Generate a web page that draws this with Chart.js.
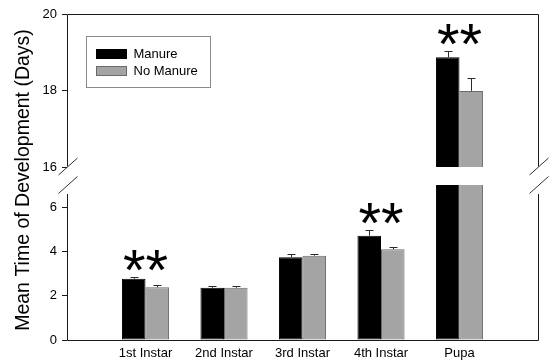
<!DOCTYPE html>
<html>
<head>
<meta charset="utf-8">
<script src="https://cdn.jsdelivr.net/npm/chart.js@4.4.1/dist/chart.umd.min.js"></script>
<style>
  html, body { margin: 0; padding: 0; background: #fff; }
  #wrap { width: 552px; height: 362px; }
</style>
</head>
<body>
<div id="wrap"><canvas id="chart" width="552" height="362"></canvas></div>
<script>
// Development stages and mean development time (days) with standard errors
const categories = ['1st Instar', '2nd Instar', '3rd Instar', '4th Instar', 'Pupa'];
const manure = [2.77, 2.36, 3.74, 4.71, 18.87];
const manureSE = [0.06, 0.09, 0.15, 0.24, 0.17];
const noManure = [2.38, 2.36, 3.81, 4.10, 17.99];
const noManureSE = [0.09, 0.06, 0.09, 0.11, 0.33];
const significance = ['**', '', '', '**', '**'];
const seriesNames = ['Manure', 'No Manure'];
const lowerTicks = [0, 2, 4, 6];
const upperTicks = [16, 18, 20];
const lowerRange = [0, 7];
const upperRange = [16, 20];

const FONT = '"Liberation Sans", Arial, Helvetica, sans-serif';
Chart.defaults.font.family = FONT;
Chart.defaults.font.size = 13;
Chart.defaults.color = '#000';

// one empty slot on each side of the categories
const pad = arr => [null, ...arr, null];
const labels = ['', ...categories, ''];

const styles = {
  Manure: { fill: '#000000', border: '#000000' },
  'No Manure': { fill: '#a4a4a4', border: '#6a6a6a' }
};

function barSet(name, values, errors, axis) {
  return {
    label: name,
    data: pad(values),
    se: pad(errors),
    yAxisID: axis,
    stack: name,
    backgroundColor: styles[name].fill,
    borderColor: styles[name].border,
    borderWidth: 1,
    borderSkipped: false
  };
}

// each series is drawn on both segments of the broken axis
const datasets = [
  barSet(seriesNames[0], manure, manureSE, 'y'),
  barSet(seriesNames[1], noManure, noManureSE, 'y'),
  barSet(seriesNames[0], manure, manureSE, 'yTop'),
  barSet(seriesNames[1], noManure, noManureSE, 'yTop')
];

// clip each dataset to its own axis segment and add error bars
const segmentClip = {
  id: 'segmentClip',
  beforeDatasetDraw(chart, args) {
    const meta = args.meta;
    const ys = chart.scales[meta.yAxisID];
    const ctx = chart.ctx;
    ctx.save();
    ctx.beginPath();
    ctx.rect(chart.chartArea.left, ys.top, chart.chartArea.right - chart.chartArea.left, ys.bottom - ys.top);
    ctx.clip();
  },
  afterDatasetDraw(chart, args) {
    const meta = args.meta;
    const ds = chart.data.datasets[args.index];
    const ys = chart.scales[meta.yAxisID];
    const ctx = chart.ctx;
    ctx.strokeStyle = '#2a2a2a';
    ctx.lineWidth = 1;
    meta.data.forEach((bar, i) => {
      const v = ds.data[i];
      if (v === null || v === undefined) return;
      const x = Math.round(bar.x) + 0.5;
      const yEnd = Math.round(ys.getPixelForValue(v + ds.se[i])) + 0.5;
      ctx.beginPath();
      ctx.moveTo(x, bar.y);
      ctx.lineTo(x, yEnd);
      ctx.moveTo(x - 4, yEnd);
      ctx.lineTo(x + 4, yEnd);
      ctx.stroke();
    });
    ctx.restore();
  }
};

// frame, axis break marks, significance stars, legend and y title
const decorations = {
  id: 'decorations',
  afterDraw(chart) {
    const ctx = chart.ctx;
    const ca = chart.chartArea;
    const lo = chart.scales.y;
    const up = chart.scales.yTop;
    const L = Math.round(ca.left) + 0.5;
    const R = Math.round(ca.right) + 0.5;
    const T = Math.round(ca.top) + 0.5;
    const B = Math.round(ca.bottom) + 0.5;
    const breakHi = up.bottom - 0.5;
    const breakLo = lo.top;
    ctx.save();
    ctx.strokeStyle = '#1a1a1a';
    ctx.lineWidth = 1;
    ctx.beginPath();
    ctx.moveTo(L, T); ctx.lineTo(R, T);
    ctx.moveTo(L, B); ctx.lineTo(R, B);
    [L, R].forEach(x => {
      ctx.moveTo(x, T); ctx.lineTo(x, breakHi);
      ctx.moveTo(x, breakLo + 9); ctx.lineTo(x, B);
    });
    ctx.stroke();
    ctx.strokeStyle = '#333';
    ctx.beginPath();
    [L, R].forEach(x => {
      [breakHi, breakLo].forEach(y => {
        ctx.moveTo(x - 9, y + 8.5);
        ctx.lineTo(x + 10, y - 8.5);
      });
    });
    ctx.stroke();

    // significance markers above the bar pairs
    ctx.fillStyle = '#000';
    ctx.font = '58px ' + FONT;
    ctx.textAlign = 'center';
    ctx.textBaseline = 'alphabetic';
    significance.forEach((mark, i) => {
      if (!mark) return;
      const top = Math.max(manure[i] + manureSE[i], noManure[i] + noManureSE[i]);
      const ys = top > lowerRange[1] ? up : lo;
      const x = chart.scales.x.getPixelForValue(i + 1);
      const cy = ys.getPixelForValue(top) - 16.5;
      const m = ctx.measureText(mark);
      const base = cy + (m.actualBoundingBoxAscent - m.actualBoundingBoxDescent) / 2;
      ctx.fillText(mark, x, base);
    });

    // legend
    const bx = Math.round(ca.left) + 19.5;
    const by = Math.round(ca.top) + 22.5;
    ctx.strokeStyle = '#8a8a8a';
    ctx.strokeRect(bx, by, 124, 51);
    ctx.font = '13px ' + FONT;
    ctx.textAlign = 'left';
    ctx.textBaseline = 'middle';
    seriesNames.forEach((name, k) => {
      const sy = by + 13 + k * 17;
      ctx.fillStyle = styles[name].fill;
      ctx.fillRect(bx + 10, sy, 30, 9);
      ctx.strokeStyle = styles[name].border;
      ctx.strokeRect(bx + 10, sy, 30, 9);
      ctx.fillStyle = '#000';
      ctx.fillText(name, bx + 47, sy + 5);
    });

    // y axis title spanning both segments
    ctx.save();
    ctx.translate(28.5, (ca.top + ca.bottom) / 2 + 3);
    ctx.rotate(-Math.PI / 2);
    ctx.font = '19.5px ' + FONT;
    ctx.textAlign = 'center';
    ctx.textBaseline = 'alphabetic';
    ctx.fillStyle = '#000';
    ctx.fillText('Mean Time of Development (Days)', 0, 0);
    ctx.restore();
    ctx.restore();
  }
};

const yWidth = s => { s.width = 67; };
const keepTicks = list => s => { s.ticks = list.map(v => ({ value: v })); };

const segmentAxis = (range, list, weight) => ({
  type: 'linear',
  position: 'left',
  stack: 'days',
  stackWeight: weight,
  min: range[0],
  max: range[1],
  afterFit: yWidth,
  afterBuildTicks: keepTicks(list),
  grid: { drawOnChartArea: false, drawTicks: true, tickLength: 5, color: '#1a1a1a' },
  border: { display: false },
  ticks: { padding: 5, color: '#000', font: { size: 13 } }
});

new Chart(document.getElementById('chart'), {
  type: 'bar',
  data: { labels, datasets },
  options: {
    responsive: false,
    animation: false,
    layout: { padding: { top: 14, right: 14, left: 0, bottom: 0 } },
    categoryPercentage: 0.6,
    barPercentage: 1.0,
    plugins: { legend: { display: false }, tooltip: { enabled: false } },
    scales: {
      x: {
        type: 'category',
        offset: false,
        grid: { display: false, drawTicks: false },
        border: { display: false },
        afterFit: s => { s.height = 22; },
        ticks: { autoSkip: false, maxRotation: 0, padding: 6, color: '#000', font: { size: 13 } }
      },
      y: segmentAxis(lowerRange, lowerTicks, 155),
      yGap: {
        type: 'linear',
        position: 'left',
        stack: 'days',
        stackWeight: 18,
        min: 0,
        max: 1,
        afterFit: yWidth,
        grid: { display: false, drawTicks: false },
        border: { display: false },
        ticks: { display: false }
      },
      yTop: segmentAxis(upperRange, upperTicks, 153)
    }
  },
  plugins: [segmentClip, decorations]
});
</script>
</body>
</html>
